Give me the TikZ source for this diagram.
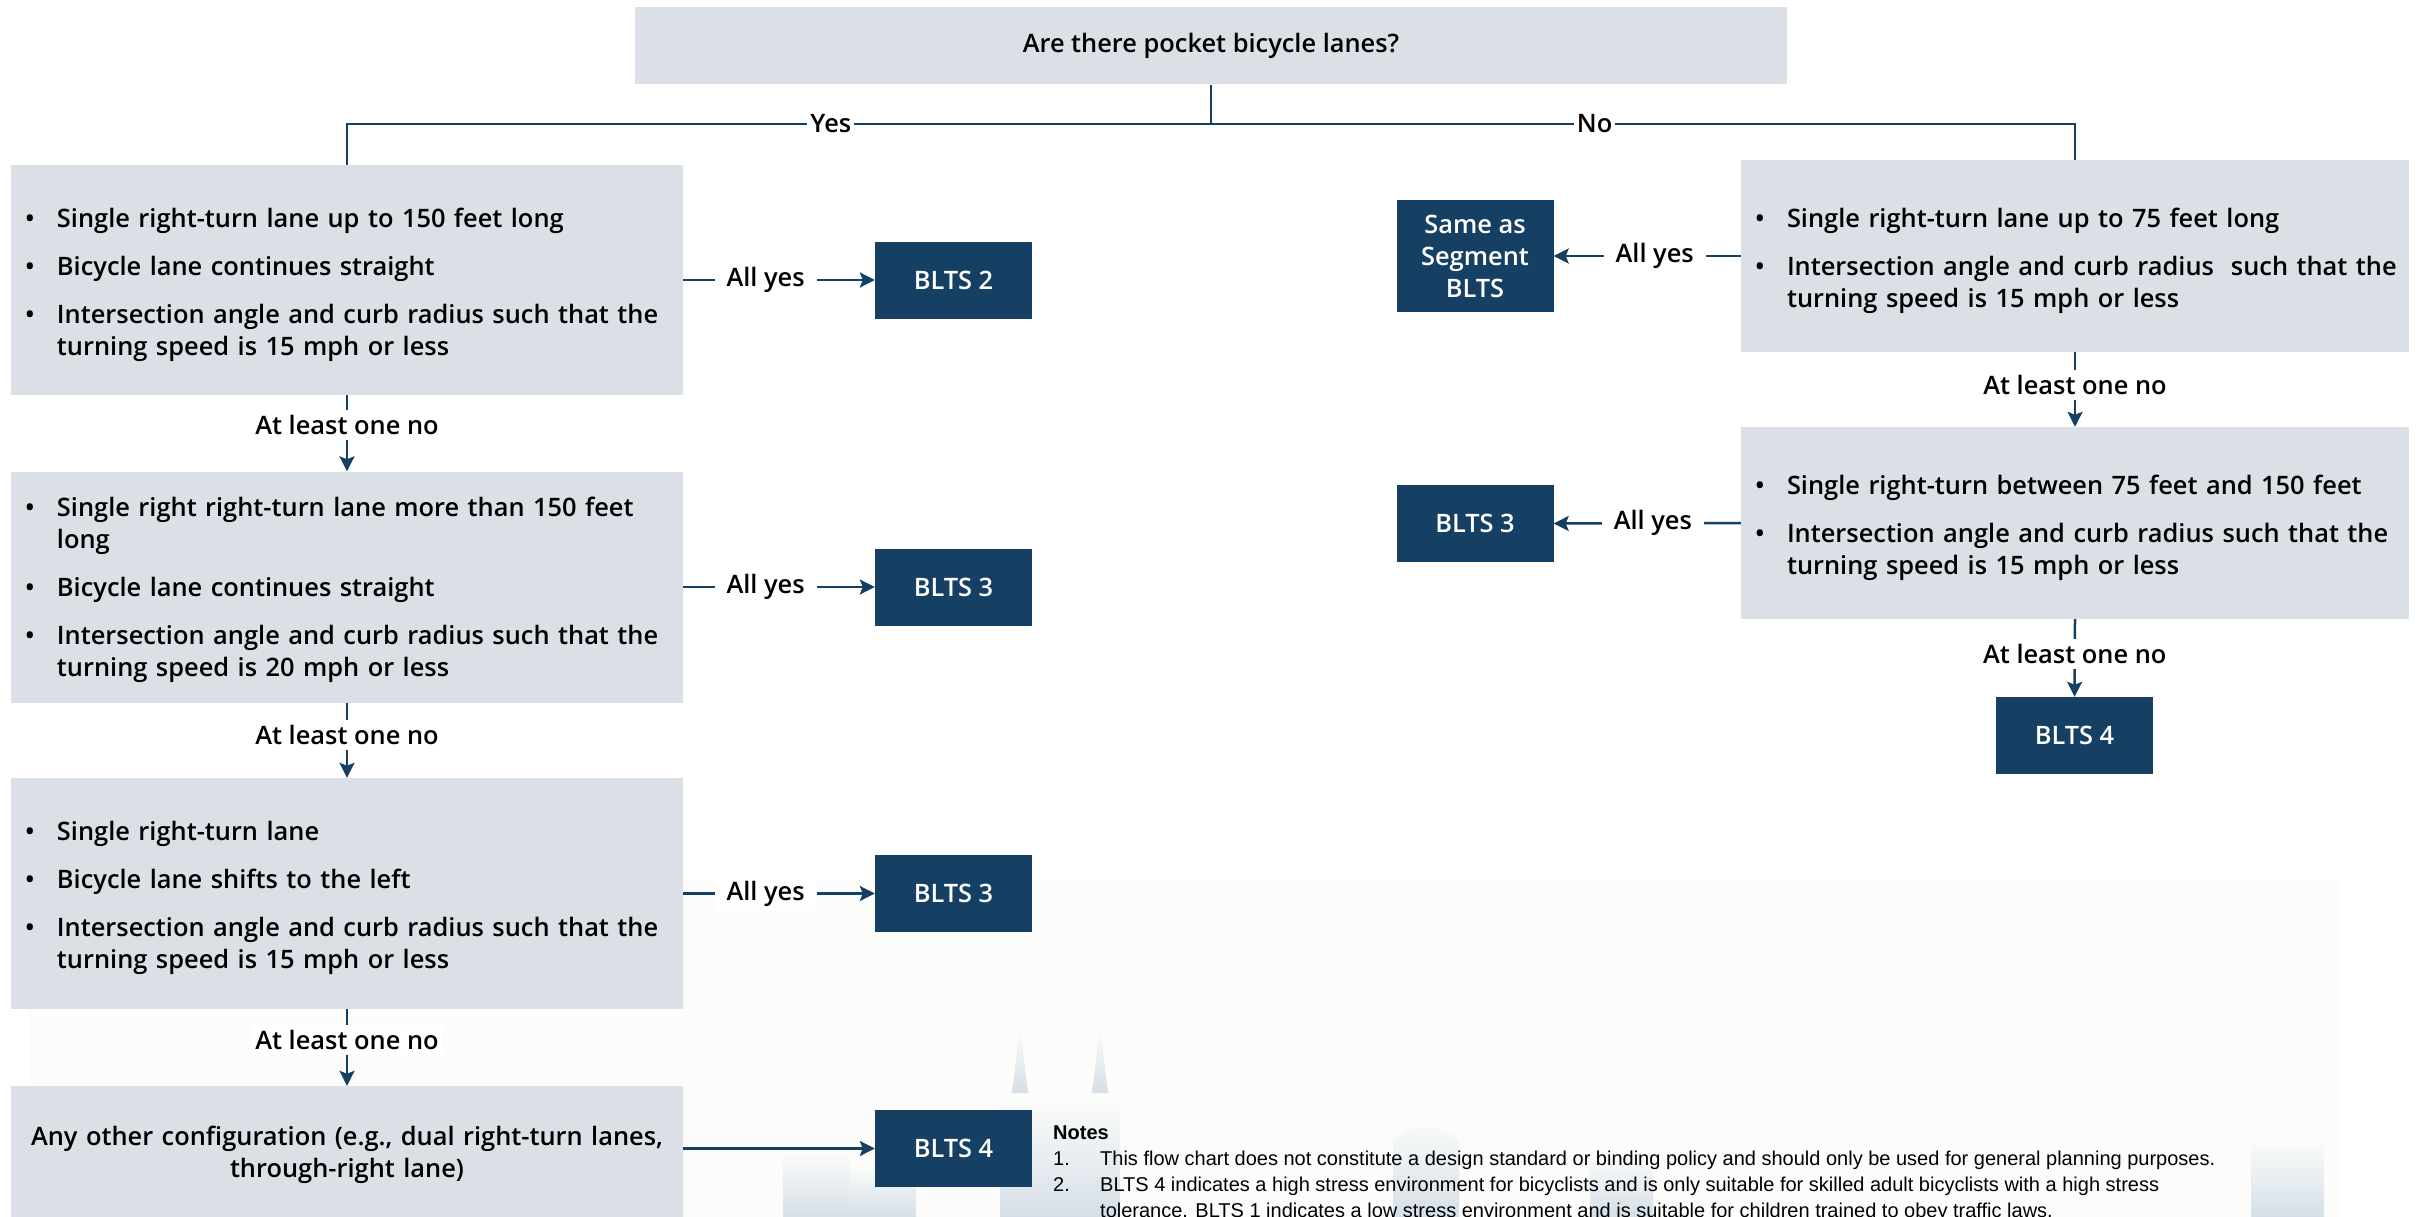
\documentclass[tikz,border=0pt]{standalone}
\usepackage{fontspec}
\IfFontExistsTF{Open Sans SemiBold}
  {\setmainfont{Open Sans SemiBold}}
  {\IfFontExistsTF{Open Sans Semibold}
    {\setmainfont{Open Sans Semibold}}
    {\setmainfont{Open Sans}[FakeBold=1.4]}}
\newfontfamily\notesfont{Liberation Sans}
\usetikzlibrary{arrows.meta}

\definecolor{boxgrey}{HTML}{DAE0E6}
\definecolor{navy}{HTML}{154063}
\definecolor{haze}{HTML}{FCFDFB}
\definecolor{skyline}{HTML}{D6DFE7}

% one bulleted criterion inside a condition box, followed by the item gap
\newcommand\crit[1]{\noindent\makebox[32pt][l]{\textbullet}%
  \parbox[t]{\dimexpr\hsize-24pt\relax}{\raggedright #1\strut}\par
  \prevdepth=\dp\strutbox\vspace{16pt}}

\tikzset{
  question/.style={fill=boxgrey, inner sep=0pt, minimum width=1152pt, minimum height=77pt},
  cond/.style={fill=boxgrey, text width=644pt, inner xsep=14pt, inner ysep=0pt, align=left},
  crits/.style={cond, execute at end node={\vspace{-26pt}}},
  result/.style={fill=navy, text=white, minimum width=157pt, minimum height=77pt,
    inner sep=0pt, align=center},
  conn/.style={draw=navy, line width=2.5pt},
  connto/.style={conn, -{Stealth[length=15pt, width=15pt, inset=3pt]}},
  lbl/.style={fill=white, text=black, inner xsep=3pt, inner ysep=5pt},
  yeslbl/.style={lbl, inner xsep=12pt},
  tower/.style={top color=haze, bottom color=skyline},
  notes/.style={font=\notesfont\fontsize{20}{26}\selectfont, inner sep=0pt, align=left},
}

\begin{document}
\begin{tikzpicture}[x=1pt, y=-1pt, font=\fontsize{25.4}{32}\selectfont]
    \clip (0,0) rectangle (2422,1217);

    % faint city skyline in the background
    \fill [haze] (30,880) rectangle (2340,1217);
    \shade [tower] (783,1150) rectangle (849,1217);
    \shade [tower] (849,1165) rectangle (916,1217);
    \shade [tower] (1000,1093) rectangle (1120,1217);
    \shade [tower] (1012,1093) -- (1020,1027) -- (1028,1093) -- cycle;
    \shade [tower] (1092,1093) -- (1100,1027) -- (1108,1093) -- cycle;
    \shade [tower] (1393,1140) -- (1426,1118) -- (1459,1140) -- (1459,1217) -- (1393,1217) -- cycle;
    \shade [tower] (1590,1153) rectangle (1653,1217);
    \shade [tower] (2251,1137) rectangle (2324,1217);

    \path (1211,46) node [question] (q) {Are there pocket bicycle lanes?};
    \coordinate (fork) at (1211,124);

    \path (347,280) node [crits, minimum height=230pt] (c1)
     {\crit{Single right-turn lane up to 150 feet long}
      \crit{Bicycle lane continues straight}
      \crit{Intersection angle and curb radius such that the turning speed is 15 mph or less}};
    \path (347,587) node [crits, minimum height=231pt] (c2)
     {\crit{Single right right-turn lane more than 150 feet long}
      \crit{Bicycle lane continues straight}
      \crit{Intersection angle and curb radius such that the turning speed is 20 mph or less}};
    \path (347,893.5) node [crits, minimum height=231pt] (c3)
     {\crit{Single right-turn lane}
      \crit{Bicycle lane shifts to the left}
      \crit{Intersection angle and curb radius such that the turning speed is 15 mph or less}};
    \path (347,1155) node [cond, text width=664pt, inner xsep=4pt, align=center, minimum height=138pt] (c4)
     {Any other configuration (e.g., dual right-turn lanes,\\ through-right lane)};

    \path (953.5,280) node [result] (b2)  {BLTS 2};
    \path (953.5,587) node [result] (b3a) {BLTS 3};
    \path (953.5,893.5) node [result] (b3b) {BLTS 3};
    \path (953.5,1148.5) node [result] (b4a) {BLTS 4};

    \path (2075,256) node [crits, text width=640pt, minimum height=192pt] (r1)
     {\crit{Single right-turn lane up to 75 feet long}
      \crit{Intersection angle and curb radius~ such that the turning speed is 15 mph or less}};
    \path (2075,523) node [crits, text width=640pt, minimum height=192pt] (r2)
     {\crit{Single right-turn between 75 feet and 150 feet}
      \crit{Intersection angle and curb radius such that the turning speed is 15 mph or less}};

    \path (1475,256) node [result, minimum height=112pt] (same) {Same as\\Segment\\BLTS};
    \path (1475,523.5) node [result] (b3c) {BLTS 3};
    \path (2074.5,735.5) node [result] (b4b) {BLTS 4};

    \draw [conn] (q.south) -- (fork) -| (c1.north) node [pos=.22,lbl] {Yes};
    \draw [conn] (fork) -| (r1.north) node [pos=.222,lbl] {No};

    \draw [connto] (c1.east) -- (b2.west)  node [pos=.43,yeslbl] {All yes};
    \draw [connto] (c2.east) -- (b3a.west) node [pos=.43,yeslbl] {All yes};
    \draw [connto] (c3.east) -- (b3b.west) node [pos=.43,yeslbl] {All yes};
    \draw [connto] (c4.east |- b4a) -- (b4a.west);

    \draw [connto] (c1.south) -- (c2.north) node [pos=.39,lbl] {At least one no};
    \draw [connto] (c2.south) -- (c3.north) node [pos=.43,lbl] {At least one no};
    \draw [connto] (c3.south) -- (c4.north) node [pos=.40,lbl] {At least one no};

    \draw [connto] (r1.west) -- (same.east) node [pos=.46,yeslbl] {All yes};
    \draw [connto] (r2.west) -- (b3c.east) node [pos=.47,yeslbl] {All yes};
    \draw [connto] (r1.south) -- (r2.north) node [pos=.44,lbl] {At least one no};
    \draw [connto] (r2.south) -- (b4b.north) node [pos=.45,lbl] {At least one no};

    \path (1053,1126) node [notes, anchor=north west] (nt)
     {\textbf{Notes}\\
      \makebox[47pt][l]{1.}This flow chart does not constitute a design standard or binding policy and should only be used for general planning purposes.\\
      \makebox[47pt][l]{2.}BLTS 4 indicates a high stress environment for bicyclists and is only suitable for skilled adult bicyclists with a high stress\\
      \hspace*{47pt}tolerance. BLTS 1 indicates a low stress environment and is suitable for children trained to obey traffic laws.};
\end{tikzpicture}
\end{document}
